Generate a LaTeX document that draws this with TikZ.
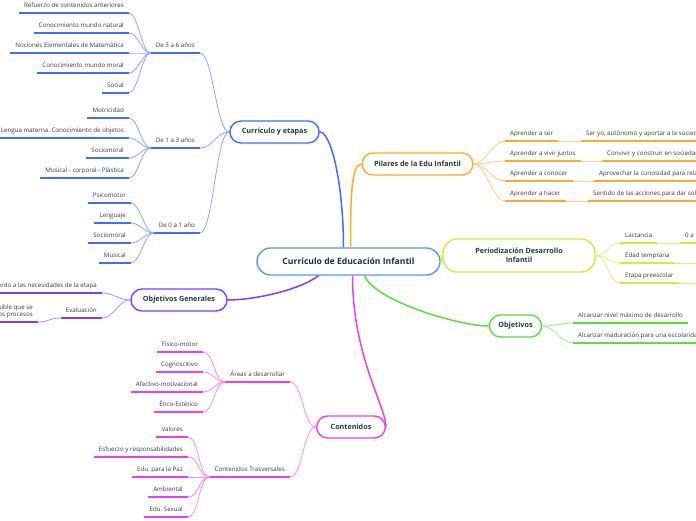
\documentclass[tikz,border=0pt]{standalone}
\usepackage{fontspec}
\setmainfont{Open Sans}
\frenchspacing

\definecolor{croot}{HTML}{5B9BD5}
\definecolor{cblue}{HTML}{3F6BFF}
\definecolor{corange}{HTML}{FFAA2A}
\definecolor{cygreen}{HTML}{C8F03C}
\definecolor{cgreen}{HTML}{55E040}
\definecolor{cpurple}{HTML}{7F3CFF}
\definecolor{cmagenta}{HTML}{F03CF0}
\definecolor{boxtext}{HTML}{1E3D36}
\definecolor{roottext}{HTML}{1B2A4A}
\definecolor{leaftext}{HTML}{3A3A3A}

\tikzset{
  box/.style={draw, line width=1.4pt, rounded corners=11pt, fill=white, minimum height=22pt,
    inner xsep=12pt, font=\fontsize{7.2}{9}\selectfont\bfseries, text=boxtext},
  leaf/.style={font=\fontsize{6.2}{7.5}\selectfont, text=leaftext, inner xsep=5pt, inner ysep=2.5pt,
    text height=4.6pt, text depth=2.5pt},
  ul/.style={line width=1.8pt},
  link/.style={line width=0.8pt},
  main/.style={line width=1.5pt},
}

\begin{document}
\begin{tikzpicture}[x=1pt, y=-1pt]
  \clip (0,0) rectangle (696,520);
  \fill[white] (0,0) rectangle (696,520);

  % Central topic
  \node[box, draw=croot, minimum width=183pt, minimum height=27pt, rounded corners=13.5pt,
    font=\fontsize{8.6}{10}\selectfont\bfseries, text=roottext] (root) at (348.5,261.5)
    {Currículo de Educación Infantil};

  % Main topics
  \node[box, draw=cblue] (curr) at (274.5,132) {Currículo y etapas};
  \node[box, draw=corange] (pil) at (417.5,164) {Pilares de la Edu Infantil};
  \node[box, draw=cygreen, minimum width=152pt, minimum height=33pt, rounded corners=14pt, align=center]
    (per) at (519,255.5) {Periodización Desarrollo\\Infantil};
  \node[box, draw=cgreen, inner xsep=9pt] (obj) at (515.5,326) {Objetivos};
  \node[box, draw=cpurple] (og) at (179,300) {Objetivos Generales};
  \node[box, draw=cmagenta, inner xsep=14pt] (cont) at (351,427) {Contenidos};

  % Main connectors
  \draw[main, cblue] ([xshift=-5pt]root.north) .. controls +(0,-60) and +(12,0) .. (curr.east);
  \draw[main, corange] ([xshift=2pt]root.north) .. controls +(0,-50) and +(-10,0) .. (pil.west);
  \draw[main, cygreen] (root.east) .. controls +(2,0) and +(-2,0) .. (per.west);
  \draw[main, cgreen] ([xshift=16pt]root.south) .. controls +(10,25) and +(-30,0) .. (obj.west);
  \draw[main, cpurple] ([xshift=-30pt]root.south) .. controls +(-20,15) and +(25,0) .. (og.east);
  \draw[main, cmagenta] ([xshift=4pt]root.south) .. controls +(0,80) and +(0,-20) .. (cont.east);

  % Curriculo y etapas: age groups
  \foreach \n/\t/\y in {d36/De 3 a 6 años/53, d13/De 1 a 3 años/148, d01/De 0 a 1 año/233} {
    \node[leaf, anchor=south east] (\n) at (200,\y) {\t};
    \draw[ul, cblue] (\n.south west) -- (\n.south east);
    \draw[link, cblue!60] (curr.west) .. controls +(-13,0) and +(13,0) .. (\n.south east);
  }
  \foreach \t/\y [count=\i] in {Refuerzo de contenidos anteriores/13, Conocimiento mundo natural/33,
      Nociones Elementales de Matemática/53, Conocimiento mundo moral/73, Social/93} {
    \node[leaf, anchor=south east] (ta\i) at (129,\y) {\t};
    \draw[ul, cblue] (ta\i.south west) -- (ta\i.south east);
    \draw[link, cblue!60] (d36.south west) .. controls +(-9,0) and +(9,0) .. (ta\i.south east);
  }
  \foreach \t/\y [count=\i] in {Motricidad/118, Lengua materna. Conocimiento de objetos/138,
      Sociomoral/158, Musical - corporal - Plástica/178} {
    \node[leaf, anchor=south east] (tb\i) at (129,\y) {\t};
    \draw[ul, cblue] (tb\i.south west) -- (tb\i.south east);
    \draw[link, cblue!60] (d13.south west) .. controls +(-9,0) and +(9,0) .. (tb\i.south east);
  }
  \foreach \t/\y [count=\i] in {Psicomotor/203, Lenguaje/223, Sociomoral/243, Musical/263} {
    \node[leaf, anchor=south east] (tc\i) at (131,\y) {\t};
    \draw[ul, cblue] (tc\i.south west) -- (tc\i.south east);
    \draw[link, cblue!60] (d01.south west) .. controls +(-9,0) and +(9,0) .. (tc\i.south east);
  }

  % Pilares
  \foreach \t/\s/\x/\y [count=\i] in {Aprender a ser/{Ser yo, autónomo y aportar a la sociedad}/581/141,
      Aprender a vivir juntos/Convivir y construir en sociedad/602/161,
      Aprender a conocer/Aprovechar la curiosidad para relacionarse/594/181,
      Aprender a hacer/Sentido de las acciones para dar soluciones/588/201} {
    \node[leaf, anchor=south west] (pa\i) at (505,\y) {\t};
    \draw[ul, corange] (pa\i.south west) -- (pa\i.south east);
    \draw[link, corange!60] (pil.east) .. controls +(12,0) and +(-12,0) .. (pa\i.south west);
    \node[leaf, anchor=south west] (pb\i) at (\x,\y) {\s};
    \draw[ul, corange] (pb\i.south west) -- (pb\i.south east);
    \draw[link, corange!60] (pa\i.south east) -- (pb\i.south west);
  }

  % Periodizacion
  \foreach \t/\y [count=\i] in {Lactancia/243, Edad temprana/263, Etapa preescolar/283} {
    \node[leaf, anchor=south west] (pe\i) at (620,\y) {\t};
    \draw[ul, cygreen] (pe\i.south west) -- (pe\i.south east);
    \draw[link, cygreen!70] (per.east) .. controls +(12,0) and +(-12,0) .. (pe\i.south west);
  }
  \node[leaf, anchor=south west] (pf1) at (680,243) {0 a 1 año};
  \draw[ul, cygreen] (pf1.south west) -- (pf1.south east);
  \draw[link, cygreen!70] (pe1.south east) -- (pf1.south west);
  \coordinate (pf2) at (696,263);
  \coordinate (pf3) at (696,283);
  \draw[link, cygreen!70] (pe2.south east) -- (pf2);
  \draw[link, cygreen!70] (pe3.south east) -- (pf3);

  % Objetivos
  \foreach \t/\y [count=\i] in {Alcanzar nivel máximo de desarrollo/323,
      Alcanzar maduración para una escolaridad/343} {
    \node[leaf, anchor=south west] (ob\i) at (573,\y) {\t};
    \draw[ul, cgreen] (ob\i.south west) -- (ob\i.south east);
    \draw[link, cgreen!60] (obj.east) .. controls +(12,0) and +(-12,0) .. (ob\i.south west);
  }

  % Objetivos Generales
  \foreach \t/\y [count=\i] in {De acuerdo a las necesidades de la etapa/293, Evaluación/318} {
    \node[leaf, anchor=south east] (og\i) at (102,\y) {\t};
    \draw[ul, cpurple] (og\i.south west) -- (og\i.south east);
    \draw[link, cpurple!60] (og.west) .. controls +(-12,0) and +(12,0) .. (og\i.south east);
  }
  \node[leaf, anchor=south east, align=right, text height=4.6pt, text depth=2.5pt]
    (ev1) at (38,322) {Lo más flexible posible que se\\adaptado a los procesos};
  \draw[ul, cpurple] (ev1.south west) -- (ev1.south east);
  \draw[link, cpurple!60] (og2.south west) .. controls +(-12,0) and +(12,0) .. (ev1.south east);

  % Contenidos
  \foreach \n/\t/\y in {are/Áreas a desarrollar/382, tra/Contenidos Trasversales/477} {
    \node[leaf, anchor=south east] (\n) at (290,\y) {\t};
    \draw[ul, cmagenta] (\n.south west) -- (\n.south east);
    \draw[link, cmagenta!60] (cont.west) .. controls +(-13,0) and +(13,0) .. (\n.south east);
  }
  \foreach \t/\y [count=\i] in {Físico-motor/352, Cognoscitivo/372, Afectivo-motivacional/392,
      Ético-Estético/412} {
    \node[leaf, anchor=south east] (ca\i) at (203,\y) {\t};
    \draw[ul, cmagenta] (ca\i.south west) -- (ca\i.south east);
    \draw[link, cmagenta!60] (are.south west) .. controls +(-11,0) and +(11,0) .. (ca\i.south east);
  }
  \foreach \t/\y [count=\i] in {Valores/437, Esfuerzo y responsabilidades/457, Edu. para la Paz/477,
      Ambiental/497, Edu. Sexual/517} {
    \node[leaf, anchor=south east] (cb\i) at (188,\y) {\t};
    \draw[ul, cmagenta] (cb\i.south west) -- (cb\i.south east);
    \draw[link, cmagenta!60] (tra.south west) .. controls +(-11,0) and +(11,0) .. (cb\i.south east);
  }
\end{tikzpicture}
\end{document}
